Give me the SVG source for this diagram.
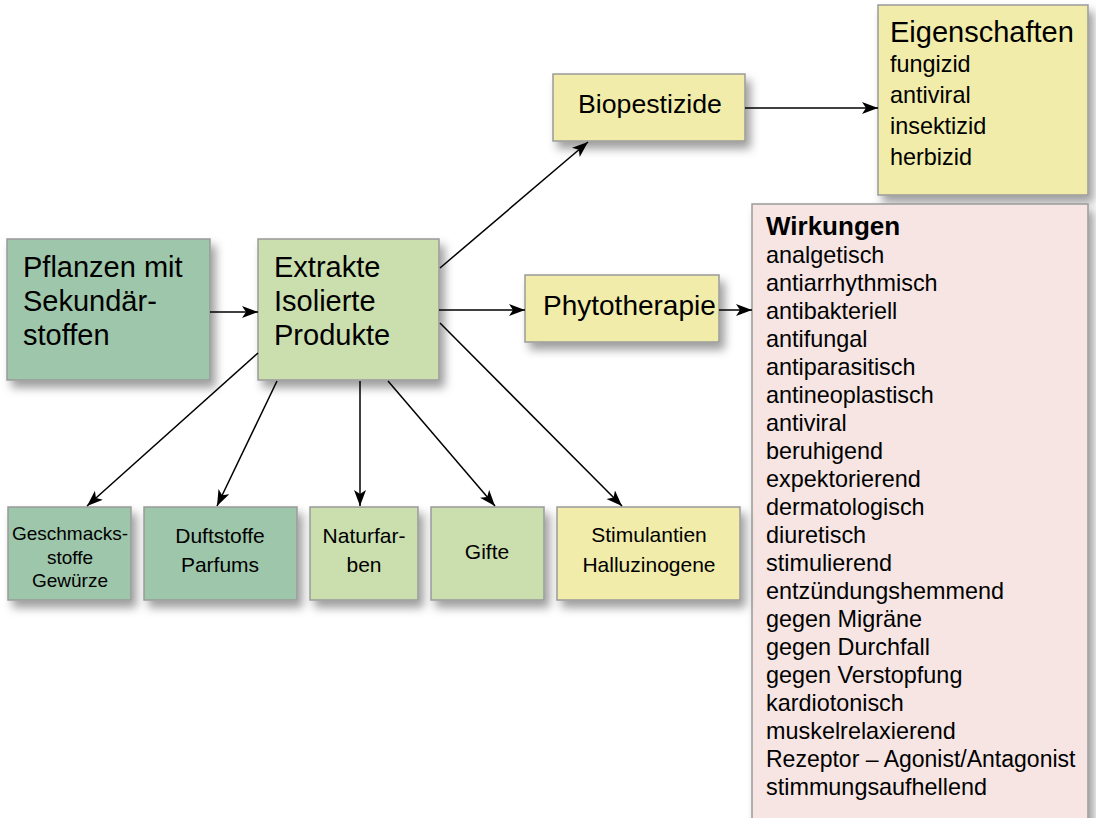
<svg xmlns="http://www.w3.org/2000/svg" width="1096" height="818" viewBox="0 0 1096 818">
<defs>
<filter id="sh" x="-20%" y="-20%" width="150%" height="150%">
<feDropShadow dx="5" dy="7" stdDeviation="5" flood-color="#000" flood-opacity="0.38"/>
</filter>
<marker id="ah" markerUnits="userSpaceOnUse" markerWidth="18" markerHeight="14" refX="16" refY="6" orient="auto">
<path d="M0,0 L16,6 L0,12 L4,6 z" fill="#000"/>
</marker>
</defs>
<style>
.box{stroke:#9a9a9a;stroke-width:1.5;filter:url(#sh)}
.g1{fill:#9ec6aa}
.g2{fill:#cadeae}
.y{fill:#f1eca9}
.p{fill:#f6e5e3}
text{font-family:"Liberation Sans",Arial,Helvetica,sans-serif;fill:#000}
.big{font-size:29px}
.lst{font-size:23.4px}
.sm{font-size:21px;text-anchor:middle}
.c{text-anchor:middle}
.con line{stroke:#000;stroke-width:1.5;marker-end:url(#ah)}
</style>
<rect width="1096" height="818" fill="#fff"/>

<g id="pflanzen">
<rect class="box g1" x="7" y="239" width="203" height="141"/>
<text class="big" x="23" y="277">Pflanzen mit</text>
<text class="big" x="23" y="311">Sekundär-</text>
<text class="big" x="23" y="345">stoffen</text>
</g>

<g id="extrakte">
<rect class="box g2" x="258" y="239" width="181" height="141"/>
<text class="big" x="274" y="277">Extrakte</text>
<text class="big" x="274" y="311">Isolierte</text>
<text class="big" x="274" y="345">Produkte</text>
</g>

<g id="biopestizide">
<rect class="box y" x="553" y="74" width="192" height="67"/>
<text x="578" y="113" style="font-size:26.7px">Biopestizide</text>
</g>

<g id="eigenschaften">
<rect class="box y" x="878" y="5" width="210" height="190"/>
<text x="890" y="42" style="font-size:29px">Eigenschaften</text>
<text class="lst" x="890" y="72">fungizid</text>
<text class="lst" x="890" y="103">antiviral</text>
<text class="lst" x="890" y="134">insektizid</text>
<text class="lst" x="890" y="165">herbizid</text>
</g>

<g id="phytotherapie">
<rect class="box y" x="525" y="275" width="194" height="67"/>
<text x="543" y="315" style="font-size:28px">Phytotherapie</text>
</g>

<g id="wirkungen">
<rect class="box p" x="752" y="204" width="336" height="640"/>
<text x="766" y="235" style="font-size:26px;font-weight:bold">Wirkungen</text>
<text class="lst" x="766" y="263">analgetisch</text>
<text class="lst" x="766" y="291">antiarrhythmisch</text>
<text class="lst" x="766" y="319">antibakteriell</text>
<text class="lst" x="766" y="347">antifungal</text>
<text class="lst" x="766" y="375">antiparasitisch</text>
<text class="lst" x="766" y="403">antineoplastisch</text>
<text class="lst" x="766" y="431">antiviral</text>
<text class="lst" x="766" y="459">beruhigend</text>
<text class="lst" x="766" y="487">expektorierend</text>
<text class="lst" x="766" y="515">dermatologisch</text>
<text class="lst" x="766" y="543">diuretisch</text>
<text class="lst" x="766" y="571">stimulierend</text>
<text class="lst" x="766" y="599">entzündungshemmend</text>
<text class="lst" x="766" y="627">gegen Migräne</text>
<text class="lst" x="766" y="655">gegen Durchfall</text>
<text class="lst" x="766" y="683">gegen Verstopfung</text>
<text class="lst" x="766" y="711">kardiotonisch</text>
<text class="lst" x="766" y="739">muskelrelaxierend</text>
<text class="lst" x="766" y="767" style="font-size:23px">Rezeptor – Agonist/Antagonist</text>
<text class="lst" x="766" y="795">stimmungsaufhellend</text>
</g>

<g id="geschmacksstoffe">
<rect class="box g1" x="8" y="507" width="123" height="93"/>
<text class="sm" x="70" y="540" style="font-size:19px">Geschmacks-</text>
<text class="sm" x="70" y="564" style="font-size:19px">stoffe</text>
<text class="sm" x="70" y="587" style="font-size:19px">Gewürze</text>
</g>

<g id="duftstoffe">
<rect class="box g1" x="144" y="507" width="153" height="93"/>
<text class="sm" x="220" y="543">Duftstoffe</text>
<text class="sm" x="220" y="572">Parfums</text>
</g>

<g id="naturfarben">
<rect class="box g2" x="310" y="507" width="108" height="93"/>
<text class="sm" x="364" y="543">Naturfar-</text>
<text class="sm" x="364" y="572">ben</text>
</g>

<g id="gifte">
<rect class="box g2" x="431" y="507" width="113" height="93"/>
<text class="sm" x="487" y="559">Gifte</text>
</g>

<g id="stimulantien">
<rect class="box y" x="557" y="507" width="183" height="93"/>
<text class="sm" x="649" y="542">Stimulantien</text>
<text class="sm" x="649" y="572">Halluzinogene</text>
</g>

<g id="connectors" class="con">
<line x1="210" y1="312" x2="258" y2="312"/>
<line x1="440" y1="268" x2="588" y2="142"/>
<line x1="439" y1="310" x2="525" y2="310"/>
<line x1="745" y1="108" x2="878" y2="108"/>
<line x1="719" y1="310" x2="752" y2="310"/>
<line x1="258" y1="353" x2="87" y2="506"/>
<line x1="277" y1="381" x2="217" y2="506"/>
<line x1="360" y1="381" x2="360" y2="506"/>
<line x1="388" y1="381" x2="495" y2="506"/>
<line x1="440" y1="323" x2="622" y2="506"/>
</g>
</svg>
